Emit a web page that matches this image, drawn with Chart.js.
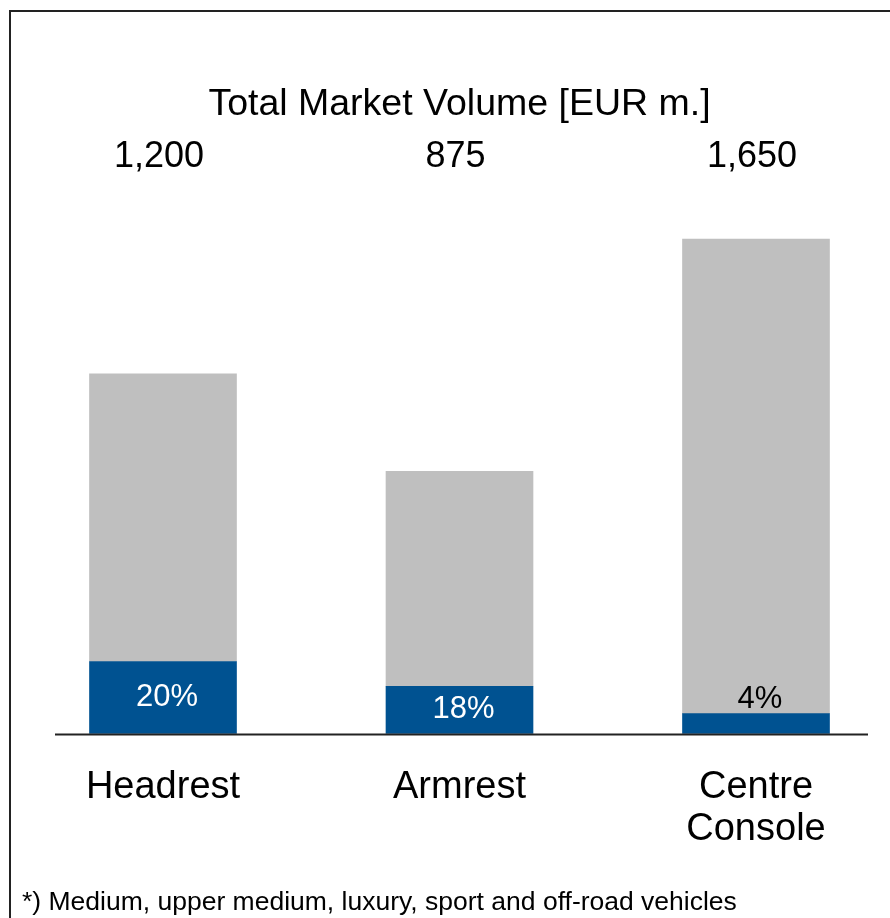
<!DOCTYPE html>
<html>
<head>
<meta charset="utf-8">
<script src="https://cdn.jsdelivr.net/npm/chart.js@4.4.1/dist/chart.umd.min.js"></script>
<style>
  html, body { margin: 0; padding: 0; background: #fff; }
  #wrap { width: 890px; height: 918px; }
</style>
</head>
<body>
<div id="wrap"><canvas id="chart"></canvas></div>
<script>
const categories = ['Headrest', 'Armrest', ['Centre', 'Console']];
const totals = [1200, 875, 1650];      // EUR m.
const sharePct = [20, 18, 4];          // share of the total, %
const titleText = 'Total Market Volume [EUR m.]';
const footnote = '*) Medium, upper medium, luxury, sport and off-road vehicles';

const FONT = '"Liberation Sans", Arial, Helvetica, sans-serif';
const BLUE = '#005291';
const GREY = '#bfbfbf';

// split each total into the share part and the remainder
const shareValues = totals.map((t, i) => t * sharePct[i] / 100);
const restValues = totals.map((t, i) => t - shareValues[i]);

const fmtTotal = v => v.toLocaleString('en-US');

const annotations = {
  id: 'annotations',
  beforeDraw(chart) {
    const ctx = chart.ctx;
    ctx.save();
    // outer frame
    ctx.strokeStyle = '#222';
    ctx.lineWidth = 2;
    ctx.strokeRect(10, 11, 1000, 1000);
    ctx.restore();
  },
  afterDatasetsDraw(chart) {
    const { ctx, chartArea, scales } = chart;
    const x = scales.x, y = scales.y;
    ctx.save();

    // baseline
    const y0 = y.getPixelForValue(0);
    ctx.strokeStyle = '#222';
    ctx.lineWidth = 2;
    ctx.beginPath();
    ctx.moveTo(chartArea.left - 108, y0 + 1);
    ctx.lineTo(chartArea.right + 112, y0 + 1);
    ctx.stroke();

    // title and totals row
    ctx.fillStyle = '#000';
    ctx.textAlign = 'center';
    ctx.textBaseline = 'alphabetic';
    ctx.font = '37.5px ' + FONT;
    ctx.fillText(titleText, (chartArea.left + chartArea.right) / 2, 115);
    ctx.font = '36px ' + FONT;
    totals.forEach((t, i) => {
      ctx.fillText(fmtTotal(t), x.getPixelForValue(i) - 4, 167);
    });

    // share labels
    ctx.font = '31px ' + FONT;
    shareValues.forEach((v, i) => {
      const top = y.getPixelForValue(v);
      const cx = x.getPixelForValue(i) + 4;
      if (y0 - top < 30) {
        ctx.fillStyle = '#000';
        ctx.textBaseline = 'alphabetic';
        ctx.fillText(sharePct[i] + '%', cx, top - 6);
      } else {
        ctx.fillStyle = '#fff';
        ctx.textBaseline = 'middle';
        ctx.fillText(sharePct[i] + '%', cx, (top + y0) / 2);
      }
    });

    // footnote
    ctx.fillStyle = '#000';
    ctx.textAlign = 'left';
    ctx.textBaseline = 'alphabetic';
    ctx.font = '26.5px ' + FONT;
    ctx.fillText(footnote, 22, 910);
    ctx.restore();
  }
};

new Chart(document.getElementById('chart'), {
  type: 'bar',
  data: {
    labels: categories,
    datasets: [
      { label: 'Share', data: shareValues, backgroundColor: BLUE, barThickness: 147, clip: false },
      { label: 'Rest', data: restValues, backgroundColor: GREY, barThickness: 147, clip: false }
    ]
  },
  options: {
    responsive: true,
    maintainAspectRatio: false,
    animation: false,
    layout: { padding: { left: 163, right: 134, top: 224, bottom: 35 } },
    plugins: {
      legend: { display: false },
      tooltip: { enabled: false }
    },
    scales: {
      x: {
        stacked: true,
        offset: false,
        grid: { display: false, drawTicks: false },
        border: { display: false },
        ticks: {
          color: '#000',
          padding: 33,
          maxRotation: 0,
          autoSkip: false,
          font: { family: FONT, size: 38, lineHeight: 1.1 }
        }
      },
      y: {
        display: false,
        stacked: true,
        min: 0,
        max: 1700
      }
    }
  },
  plugins: [annotations]
});
</script>
</body>
</html>
